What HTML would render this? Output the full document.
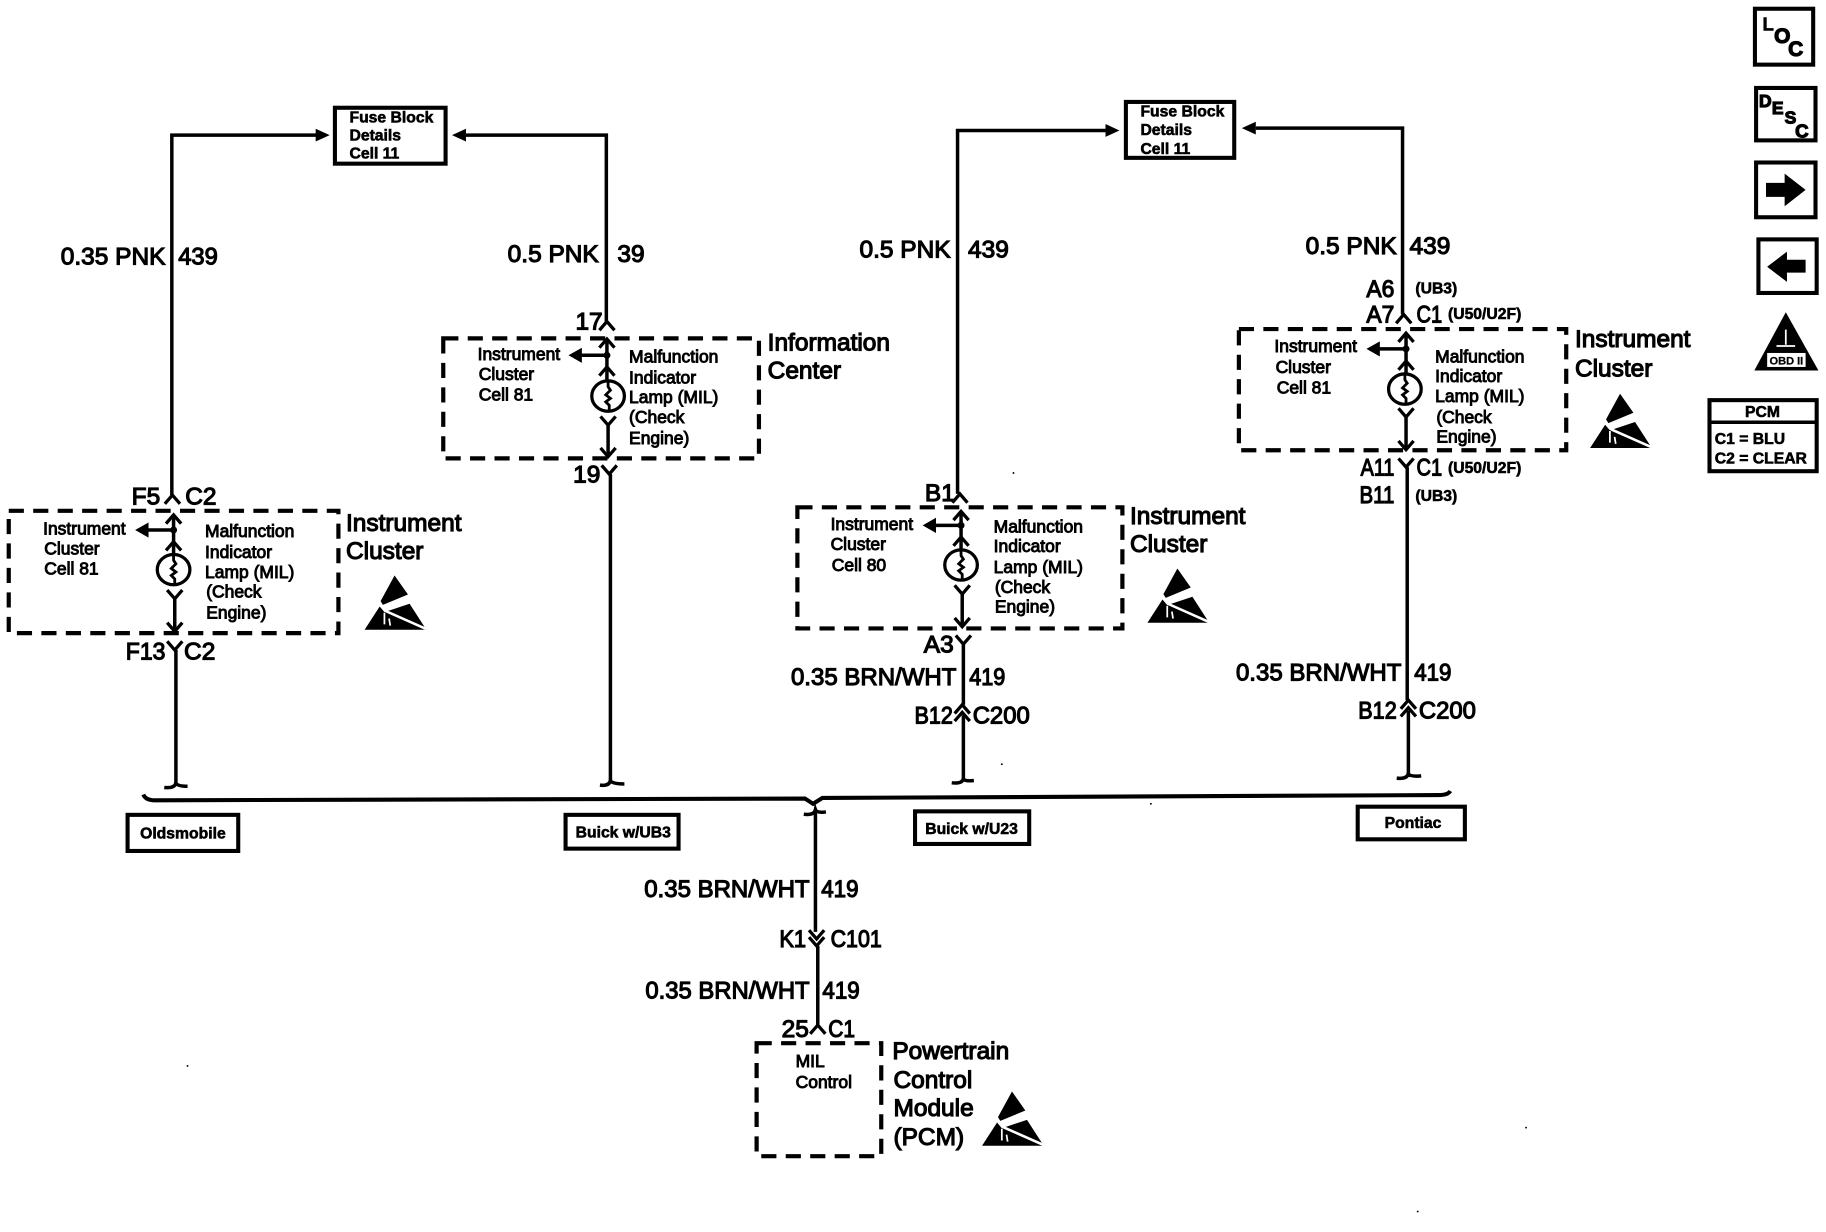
<!DOCTYPE html>
<html><head><meta charset="utf-8">
<style>
html,body{margin:0;padding:0;background:#fff;width:1826px;height:1232px;overflow:hidden}
svg{display:block}
text{font-family:"Liberation Sans",sans-serif;fill:#000;stroke:#000}
.m{font-size:21px;stroke-width:1px}
.s{font-size:15px;stroke-width:.8px}
.x{font-size:13.5px;font-weight:700;stroke-width:.5px}
.e{text-anchor:end}
.c{text-anchor:middle}
.w{fill:none;stroke:#000;stroke-width:3}
.j{fill:none;stroke:#000;stroke-width:3}
.d{fill:none;stroke:#000;stroke-width:3.600;stroke-dasharray:13 8}
.b{fill:#fff;stroke:#000;stroke-width:3.500}
</style></head><body>
<svg width="1826" height="1232" viewBox="0 0 1567.500 1057.600" xmlns="http://www.w3.org/2000/svg">
<defs>
<path id="up" d="M-6.500 7.500L0 0L6.500 7.500" fill="none" stroke="#000" stroke-width="2.800"/>
<path id="dn" d="M-6.500 -7.500L0 0L6.500 -7.500" fill="none" stroke="#000" stroke-width="2.800"/>
<path id="tip" d="M-6.500 -6.500L0 1L6.500 -6.500" fill="none" stroke="#000" stroke-width="2.800"/>
<g id="lamp"><ellipse rx="14" ry="13" fill="#fff" stroke="#000" stroke-width="2.800"/><path d="M0 -13V-8L2 -5L-2 -1L2 2L-2 5L1 8V13" fill="none" stroke="#000" stroke-width="2.400"/></g>
<g id="la"><path d="M0 0H25" stroke="#000" stroke-width="3"/><polygon points="-8,0 3.500,-6.500 3.500,6.500" fill="#000"/></g>
<g id="esd">
<polygon points="25.700,0 37.200,16.300 15.700,25.200 13.700,22" fill="#000"/>
<polygon points="0,46.600 12.900,26.600 17,31.500 38.600,24.300 53,46.600" fill="#000"/>
<path d="M18 30.500L53 46" stroke="#fff" stroke-width="2.200"/>
<path d="M17 32V42M21 37L22 43" stroke="#fff" stroke-width="1.500"/>
</g>
</defs>

<!-- Fuse block 1 -->
<rect x="287.500" y="92.500" width="95" height="48" class="b"/>
<text class="x" x="300" y="105">Fuse Block</text><text class="x" x="300" y="120.500">Details</text><text class="x" x="300" y="136">Cell 11</text>
<path class="w" d="M147.500 425V116H272"/><polygon points="283,116 271,110.500 271,121.500"/>
<path class="w" d="M400 116H520.500V276"/><polygon points="388,116 400,110.500 400,121.500"/>

<!-- Fuse block 2 -->
<rect x="966.500" y="87.500" width="93" height="48" class="b"/>
<text class="x" x="979" y="100">Fuse Block</text><text class="x" x="979" y="116">Details</text><text class="x" x="979" y="132">Cell 11</text>
<path class="w" d="M822 424V112H950"/><polygon points="961,112 949,106.500 949,117.500"/>
<path class="w" d="M1078 110H1204V270"/><polygon points="1066,110 1078,104.500 1078,115.500"/>

<!-- Oldsmobile cluster -->
<text class="m e" x="142" y="227">0.35 PNK</text><text class="m" x="153" y="227" textLength="34" lengthAdjust="spacingAndGlyphs">439</text>
<text class="m" x="113" y="433">F5</text><text class="m" x="159" y="433">C2</text>
<use href="#up" x="148" y="425"/>
<rect x="7.500" y="438.500" width="283" height="105" class="d"/>
<use href="#up" x="149" y="442"/><path class="w" d="M149 442V465"/><use href="#la" x="124" y="455"/><circle cx="149" cy="455" r="3"/>
<use href="#up" x="149" y="465"/><path class="w" d="M149 465V477"/><use href="#lamp" x="149" y="489"/><use href="#dn" x="150" y="514"/>
<path class="w" d="M150 514V541"/><use href="#tip" x="150" y="541"/>
<use href="#dn" x="150" y="558"/><path class="w" d="M151 558V674"/>
<path class="j" d="M141 676Q150 677 151 672Q152 675 161 675"/>
<text class="m" x="108" y="566" textLength="34" lengthAdjust="spacingAndGlyphs">F13</text><text class="m" x="158" y="566">C2</text>
<text class="s" x="37" y="459">Instrument</text><text class="s" x="38" y="476">Cluster</text><text class="s" x="38" y="493">Cell 81</text>
<text class="s" x="176" y="461">Malfunction</text><text class="s" x="176" y="479">Indicator</text><text class="s" x="176" y="496">Lamp (MIL)</text><text class="s" x="177" y="513">(Check</text><text class="s" x="177" y="531">Engine)</text>
<text class="m" x="297" y="456">Instrument</text><text class="m" x="297" y="480">Cluster</text>
<use href="#esd" x="313" y="494"/>

<!-- Information center -->
<text class="m e" x="514" y="225">0.5 PNK</text><text class="m" x="530" y="225">39</text>
<text class="m" x="494" y="283">17</text>
<use href="#up" x="521" y="276"/>
<rect x="380.500" y="290.500" width="271" height="103" class="d"/>
<use href="#up" x="521" y="291"/><path class="w" d="M521 291V317"/><use href="#la" x="496" y="305"/><circle cx="521" cy="305" r="3"/>
<use href="#up" x="521" y="315"/><path class="w" d="M521 315V328"/><use href="#lamp" x="522" y="340"/><use href="#dn" x="522" y="365"/>
<path class="w" d="M522 365V391"/><use href="#tip" x="522" y="391"/>
<use href="#dn" x="523" y="407"/><path class="w" d="M524 407V672"/>
<path class="j" d="M515 674Q523 675 524 670Q525 673 536 673"/>
<text class="m" x="492" y="414">19</text>
<text class="s" x="410" y="309">Instrument</text><text class="s" x="411" y="326">Cluster</text><text class="s" x="411" y="344">Cell 81</text>
<text class="s" x="540" y="311">Malfunction</text><text class="s" x="540" y="329">Indicator</text><text class="s" x="540" y="346">Lamp (MIL)</text><text class="s" x="540" y="363">(Check</text><text class="s" x="540" y="381">Engine)</text>
<text class="m" x="659" y="301">Information</text><text class="m" x="659" y="325">Center</text>

<!-- Buick U23 -->
<text class="m e" x="816" y="221">0.5 PNK</text><text class="m" x="831" y="221">439</text>
<text class="m" x="794" y="430">B1</text>
<use href="#up" x="824" y="424"/>
<rect x="684.500" y="435.500" width="279" height="104" class="d"/>
<use href="#up" x="825" y="439"/><path class="w" d="M825 439V463"/><use href="#la" x="800" y="451"/><circle cx="825" cy="451" r="3"/>
<use href="#up" x="825" y="461"/><path class="w" d="M825 461V473"/><use href="#lamp" x="825" y="485"/><use href="#dn" x="826" y="510"/>
<path class="w" d="M826 510V537"/><use href="#tip" x="826" y="537"/>
<use href="#dn" x="827" y="553"/><path class="w" d="M827 553V605"/>
<text class="m" x="793" y="560">A3</text>
<text class="m e" x="821" y="588" textLength="142" lengthAdjust="spacingAndGlyphs">0.35 BRN/WHT</text><text class="m" x="832" y="588" textLength="31" lengthAdjust="spacingAndGlyphs">419</text>
<use href="#up" x="826" y="605"/><use href="#up" x="826" y="611.500"/><path class="w" d="M827 614V671"/>
<text class="m" x="785" y="621" textLength="33" lengthAdjust="spacingAndGlyphs">B12</text><text class="m" x="835" y="621" textLength="49" lengthAdjust="spacingAndGlyphs">C200</text>
<path class="j" d="M817 672Q826 673 827 668.500Q828 671 836 670"/>
<text class="s" x="713" y="455">Instrument</text><text class="s" x="713" y="472">Cluster</text><text class="s" x="714" y="490">Cell 80</text>
<text class="s" x="853" y="457">Malfunction</text><text class="s" x="853" y="474">Indicator</text><text class="s" x="853" y="492">Lamp (MIL)</text><text class="s" x="854" y="509">(Check</text><text class="s" x="854" y="526">Engine)</text>
<text class="m" x="970" y="450">Instrument</text><text class="m" x="970" y="474">Cluster</text>
<use href="#esd" x="985" y="488"/>

<!-- Pontiac -->
<text class="m e" x="1199" y="218">0.5 PNK</text><text class="m" x="1210" y="218">439</text>
<text class="m" x="1173" y="255" textLength="24" lengthAdjust="spacingAndGlyphs">A6</text><text class="x" x="1215" y="252">(UB3)</text>
<text class="m" x="1173" y="277" textLength="24" lengthAdjust="spacingAndGlyphs">A7</text><text class="m" x="1216" y="277" textLength="22" lengthAdjust="spacingAndGlyphs">C1</text><text class="x" x="1243" y="274">(U50/U2F)</text>
<use href="#up" x="1205" y="270"/>
<rect x="1063.500" y="282.500" width="281" height="104" class="d"/>
<use href="#up" x="1207" y="286"/><path class="w" d="M1207 286V311"/><use href="#la" x="1181" y="299.500"/><circle cx="1207" cy="299.500" r="3"/>
<use href="#up" x="1207" y="310"/><path class="w" d="M1207 310V322"/><use href="#lamp" x="1206" y="334"/><use href="#dn" x="1207" y="358"/>
<path class="w" d="M1207 358V385"/><use href="#tip" x="1207" y="385"/>
<use href="#dn" x="1207" y="401"/><path class="w" d="M1208 401V601"/>
<text class="m" x="1168" y="408" textLength="29" lengthAdjust="spacingAndGlyphs">A11</text><text class="m" x="1216" y="408" textLength="22" lengthAdjust="spacingAndGlyphs">C1</text><text class="x" x="1243" y="406">(U50/U2F)</text>
<text class="m" x="1167" y="432" textLength="30" lengthAdjust="spacingAndGlyphs">B11</text><text class="x" x="1215" y="430">(UB3)</text>
<text class="m e" x="1203" y="584" textLength="142" lengthAdjust="spacingAndGlyphs">0.35 BRN/WHT</text><text class="m" x="1214" y="584" textLength="32" lengthAdjust="spacingAndGlyphs">419</text>
<use href="#up" x="1209" y="601"/><use href="#up" x="1209" y="607.500"/><path class="w" d="M1209 610V667"/>
<text class="m" x="1166" y="617" textLength="33" lengthAdjust="spacingAndGlyphs">B12</text><text class="m" x="1218" y="617" textLength="49" lengthAdjust="spacingAndGlyphs">C200</text>
<path class="j" d="M1199 668Q1208 669 1209 664Q1210 667 1220 666"/>
<text class="s" x="1094" y="302">Instrument</text><text class="s" x="1095" y="320">Cluster</text><text class="s" x="1096" y="338">Cell 81</text>
<text class="s" x="1232" y="311">Malfunction</text><text class="s" x="1232" y="328">Indicator</text><text class="s" x="1232" y="345">Lamp (MIL)</text><text class="s" x="1233" y="363">(Check</text><text class="s" x="1233" y="380">Engine)</text>
<text class="m" x="1352" y="298">Instrument</text><text class="m" x="1352" y="323">Cluster</text>
<use href="#esd" x="1365" y="338"/>

<!-- bus -->
<path class="w" style="stroke-width:3.500" d="M123 682Q125 687 133 687L691 685.500L698 690L706 685L1235 682.500Q1243 682.500 1245 679"/>
<path class="j" d="M690 699Q699 700 700 695Q701 698 709 697"/>
<path class="w" d="M700 697V800"/>
<text class="m e" x="695" y="770" textLength="142" lengthAdjust="spacingAndGlyphs">0.35 BRN/WHT</text><text class="m" x="705" y="770" textLength="32" lengthAdjust="spacingAndGlyphs">419</text>
<use href="#dn" x="701" y="806"/><use href="#dn" x="701" y="812"/><path class="w" d="M702 812V880"/>
<text class="m" x="669" y="813" textLength="23" lengthAdjust="spacingAndGlyphs">K1</text><text class="m" x="713" y="813" textLength="44" lengthAdjust="spacingAndGlyphs">C101</text>
<text class="m e" x="695" y="857" textLength="141" lengthAdjust="spacingAndGlyphs">0.35 BRN/WHT</text><text class="m" x="706" y="857" textLength="32" lengthAdjust="spacingAndGlyphs">419</text>
<use href="#up" x="702" y="880"/>
<text class="m" x="671" y="890">25</text><text class="m" x="711" y="890" textLength="23" lengthAdjust="spacingAndGlyphs">C1</text>
<rect x="649.500" y="895.500" width="107" height="97" class="d"/>
<text class="s" x="683" y="916">MIL</text><text class="s" x="683" y="934">Control</text>
<text class="m" x="766" y="909">Powertrain</text><text class="m" x="767" y="934">Control</text><text class="m" x="767" y="958">Module</text><text class="m" x="767" y="983">(PCM)</text>
<use href="#esd" x="843" y="937"/>

<!-- variant labels -->
<rect x="109.500" y="699.500" width="95" height="31" class="b"/><text class="x c" x="157" y="720">Oldsmobile</text>
<rect x="485.500" y="699.500" width="97" height="29" class="b"/><text class="x c" x="535" y="719">Buick w/UB3</text>
<rect x="785.500" y="696.500" width="98" height="28" class="b"/><text class="x c" x="834" y="716">Buick w/U23</text>
<rect x="1165.500" y="692.500" width="92" height="28" class="b"/><text class="x c" x="1213" y="711">Pontiac</text>

<!-- right icons -->
<rect x="1506.500" y="7.500" width="50" height="48" class="b"/>
<text class="x" style="font-size:16px" x="1513" y="26">L</text><text class="x" style="font-size:18px;stroke-width:1px" x="1523" y="37">O</text><text class="x" style="font-size:18px;stroke-width:1px" x="1535" y="48">C</text>
<rect x="1507.500" y="75.500" width="51" height="45" class="b"/>
<text class="x" style="font-size:15px;stroke-width:1px" x="1510" y="92">D</text><text class="x" style="font-size:15px;stroke-width:1px" x="1521" y="98">E</text><text class="x" style="font-size:15px;stroke-width:1px" x="1532" y="106">S</text><text class="x" style="font-size:16px;stroke-width:1px" x="1541" y="118">C</text>
<rect x="1507.500" y="139.500" width="51" height="47" class="b"/>
<polygon points="1516,157 1532,157 1532,149 1550,163 1532,177 1532,169 1516,169"/>
<rect x="1509.500" y="205.500" width="50" height="46" class="b"/>
<polygon points="1550,223 1534,223 1534,216 1517,229 1534,242 1534,234 1550,234"/>
<polygon points="1533,268 1561,318 1506,318"/>
<path d="M1525 297H1541M1533 283V296" stroke="#fff" stroke-width="1.500"/>
<rect x="1517" y="303" width="33" height="12" fill="#fff"/>
<text x="1533.500" y="313" class="c" style="font-size:9.500px;font-weight:700;stroke-width:.2px">OBD II</text>
<rect x="1467.500" y="343.500" width="92" height="61" class="b"/>
<path d="M1467 362.500H1560" stroke="#000" stroke-width="3"/>
<text class="x c" x="1513" y="358">PCM</text>
<text class="x" x="1472" y="381">C1 = BLU</text><text class="x" x="1472" y="398">C2 = CLEAR</text>

<!-- specks -->
<g fill="#000"><circle cx="870" cy="406" r=".8"/><circle cx="161" cy="915" r=".8"/><circle cx="860" cy="656" r=".8"/><circle cx="1217" cy="1040" r=".8"/><circle cx="1310" cy="968" r=".8"/><circle cx="988" cy="690" r=".8"/></g>
</svg>
</body></html>
